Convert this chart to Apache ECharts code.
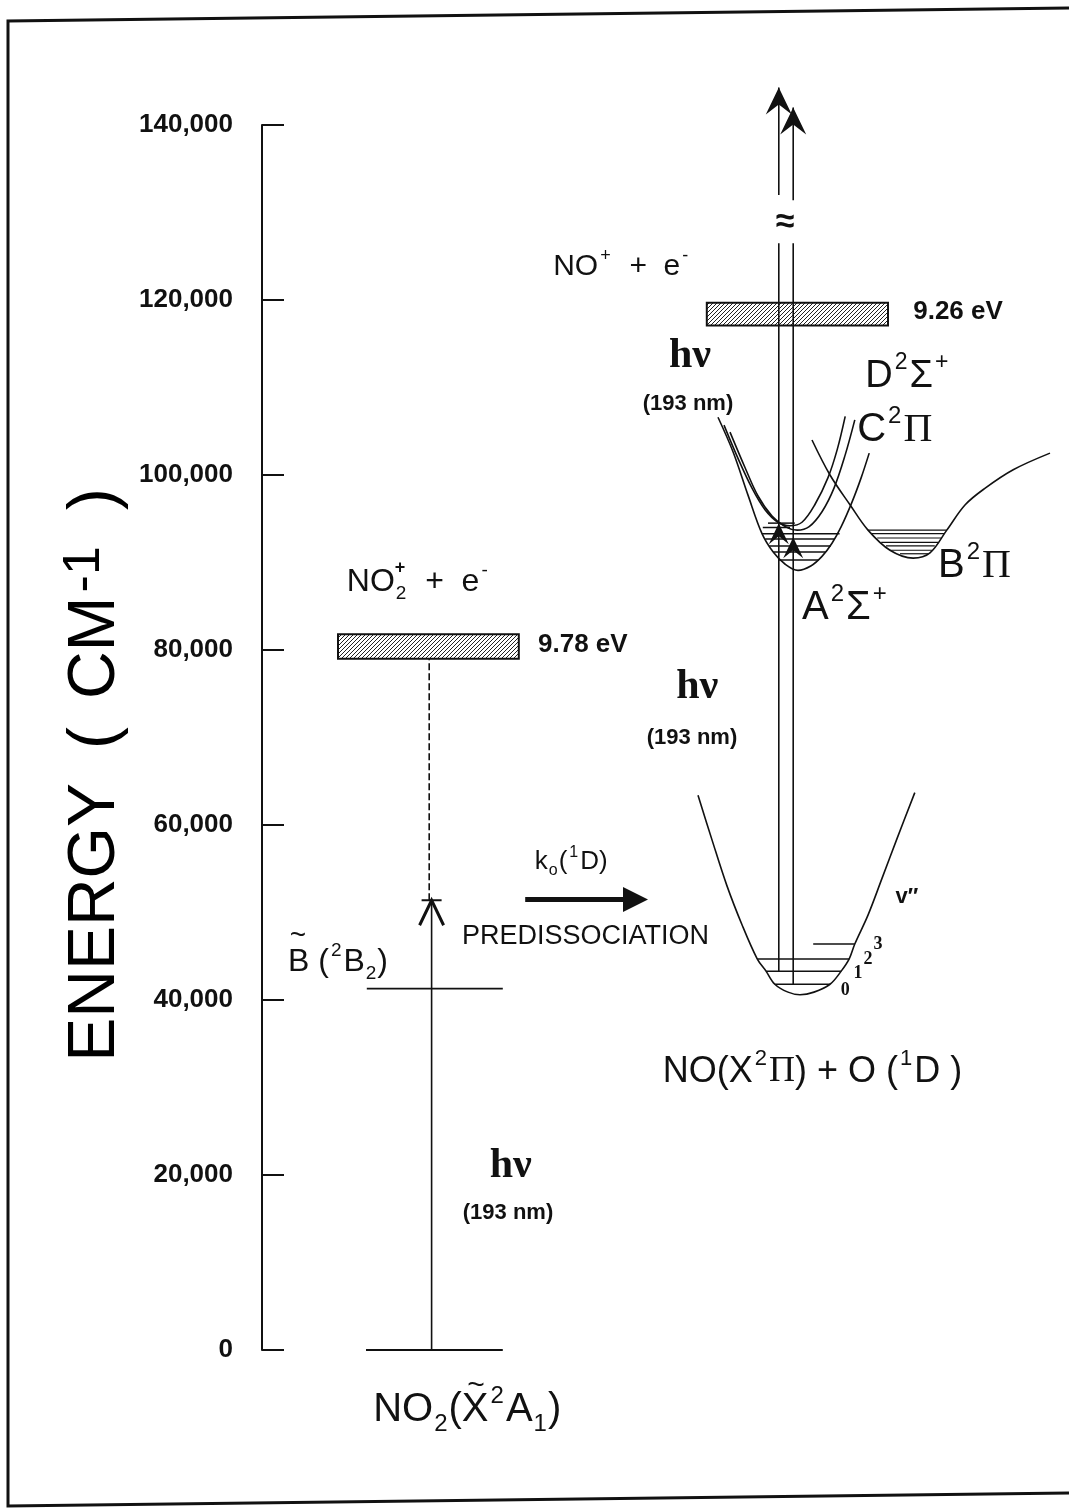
<!DOCTYPE html>
<html>
<head>
<meta charset="utf-8">
<script src="https://cdn.jsdelivr.net/npm/echarts@6/dist/echarts.min.js"></script>
<style>
  html, body { margin: 0; padding: 0; background: #fff; }
  #chart { width: 1069px; height: 1509px; }
</style>
</head>
<body>
<div id="chart"></div>
<script>
// Energy-level diagram for NO2 photolysis at 193 nm.
// Vertical scale: energy in cm^-1. Horizontal scale: schematic coordinate, arbitrary units 0-100.

const energyTicks = [0, 20000, 40000, 60000, 80000, 100000, 120000, 140000];

// ---- NO2 side ----
const no2GroundLevel = [[13.0, 30.1, 0]];          // [xStart, xEnd, energy]
const no2BLevel      = [[13.1, 30.1, 41300]];
const no2IonBand     = [[9.5, 32.1, 79000, 81800]]; // [xStart, xEnd, eLow, eHigh]

// ---- NO side ----
const noIonBand = [[55.6, 78.25, 117100, 119700]];

// NO X^2Pi potential curve [x, energy]
const xStateCurve = [
  [54.5, 63400], [56.25, 58300], [58.1, 53100], [60.0, 48600], [61.9, 44700],
  [63.0, 43300], [64.1, 41800], [65.75, 40900], [67.25, 40600], [69.0, 40900],
  [71.0, 41800], [72.4, 43300], [73.4, 44700], [74.1, 46400], [75.75, 49700],
  [77.5, 53900], [79.4, 58500], [81.6, 63700]
];
const xStateLevels = [[64.1, 71.0, 41800], [63.0, 72.4, 43300], [61.9, 73.4, 44700], [68.9, 74.1, 46400]];
const xLevelNumbers = ['0', '1', '2', '3'];

// NO A^2Sigma+ curve
const aStateCurve = [
  [57.0, 106600], [58.9, 102600], [60.75, 97700], [62.5, 93300], [63.9, 91200],
  [65.4, 89800], [67.0, 89100], [68.6, 89600], [70.0, 90700], [71.25, 92200],
  [72.4, 94100], [73.75, 96900], [74.9, 99700], [75.9, 102500]
];
const aStateLevels = [[62.5, 72.2, 93300], [62.9, 71.55, 92700], [63.4, 71.1, 91900], [63.9, 70.4, 91200], [64.6, 69.6, 90300]];

// NO D^2Sigma+ and C^2Pi curves
const dStateCurve = [
  [57.75, 105700], [59.5, 101900], [61.25, 98500], [62.9, 96000], [64.5, 94600],
  [66.0, 94200], [67.5, 94600], [69.1, 96600], [70.75, 99700], [71.9, 102900], [72.9, 106700]
];
const cStateCurve = [
  [58.5, 104900], [60.4, 100800], [62.0, 97600], [63.75, 95300], [65.4, 94100],
  [66.9, 93700], [68.4, 94100], [70.0, 95800], [71.5, 98500], [72.9, 102300], [74.1, 106300]
];
const cdLevels = [[63.25, 66.6, 94500], [62.6, 66.0, 94000]];

// NO B^2Pi curve
const bStateCurve = [
  [68.75, 104000], [71.0, 100000], [73.5, 96600], [75.75, 93700], [78.5, 91400],
  [81.4, 90500], [83.5, 91100], [85.6, 93700], [87.9, 96600], [90.4, 98500],
  [93.9, 100600], [98.5, 102500]
];
const bStateLevels = [
  [75.75, 85.6, 93700], [76.25, 85.25, 93300], [76.9, 84.9, 92800], [77.4, 84.5, 92300],
  [78.0, 84.1, 91900], [78.5, 83.75, 91400], [79.75, 83.25, 91000]
];

// Photon transitions [x, eFrom, eTo]
const photonLines = [
  [21.2, 0, 51400],
  [64.6, 43300, 126500], [64.6, 132000, 144300],
  [66.4, 41800, 126500], [66.4, 131400, 142000]
];
const dissociationLine = [[20.9, 51400, 79000]];
// Arrow tips [x, energy, kind]  kind 0: open head with cap, 1: large filled, 2: small filled
const arrowTips = [[21.2, 51400, 0], [64.6, 144300, 1], [66.4, 142000, 1], [64.6, 94500, 2], [66.4, 92900, 2]];
// Predissociation arrow [xStart, xEnd, energy]
const predissociationArrow = [[32.9, 48.25, 51500]];

const INK = '#111';
const SANS = '"Liberation Sans",Arial,sans-serif';
const SERIF = '"Liberation Serif","DejaVu Serif",serif';

function richSet(s, weight) {
  const sup = Math.round(s * 0.6);
  const w = weight || 'normal';
  return {
    t:   { fontFamily: SANS, fontSize: s, color: INK, fontWeight: w, lineHeight: Math.round(s * 1.3) },
    b:   { fontFamily: SANS, fontSize: s, color: INK, fontWeight: 'bold', lineHeight: Math.round(s * 1.3) },
    g:   { fontFamily: SERIF, fontSize: s, color: INK, fontWeight: w, lineHeight: Math.round(s * 1.3) },
    sup: { fontFamily: SANS, fontSize: sup, color: INK, fontWeight: w, verticalAlign: 'top', lineHeight: sup, padding: [0, 2, 0, 2] },
    sub: { fontFamily: SANS, fontSize: sup, color: INK, fontWeight: w, verticalAlign: 'bottom', lineHeight: sup, padding: [0, 1, 0, 1] }
  };
}

// Text annotations placed in data coordinates
const annotations = [
  { text: '{t|NO}{sub|2}{t|  +  e}{sup|-}', at: [10.6, 87700], align: 'left', size: 32 },
  { text: '{b|+}', at: [17.25, 89400], align: 'center', size: 18 },
  { text: '{t|9.78 eV}', at: [34.5, 80600], align: 'left', size: 26, weight: 'bold' },
  { text: '{t|B (}{sup|2}{t|B}{sub|2}{t|)}', at: [3.25, 44300], align: 'left', size: 32 },
  { text: '{t|~}', at: [4.5, 47300], align: 'center', size: 28 },
  { text: '{g|hν}', at: [31.1, 21000], align: 'center', size: 42, weight: 'bold' },
  { text: '{t|(193 nm)}', at: [30.75, 15700], align: 'center', size: 22, weight: 'bold' },
  { text: '{t|NO}{sub|2}{t|(X}{sup|2}{t|A}{sub|1}{t|)}', at: [13.9, -6900], align: 'left', size: 40 },
  { text: '{t|~}', at: [26.75, -4100], align: 'center', size: 30 },
  { text: '{t|k}{sub|o}{t|(}{sup|1}{t|D)}', at: [34.1, 55800], align: 'left', size: 26 },
  { text: '{t|PREDISSOCIATION}', at: [25.0, 47200], align: 'left', size: 27 },
  { text: '{t|NO}{sup|+}{t|  +  e}{sup|-}', at: [36.4, 123800], align: 'left', size: 30 },
  { text: '{t|9.26 eV}', at: [81.4, 118600], align: 'left', size: 26, weight: 'bold' },
  { text: '{g|hν}', at: [53.5, 113600], align: 'center', size: 42, weight: 'bold' },
  { text: '{t|(193 nm)}', at: [53.25, 108100], align: 'center', size: 22, weight: 'bold' },
  { text: '{t|D}{sup|2}{t|Σ}{sup|+}', at: [75.4, 111300], align: 'left', size: 38 },
  { text: '{t|C}{sup|2}{g|Π}', at: [74.4, 105100], align: 'left', size: 40 },
  { text: '{t|B}{sup|2}{g|Π}', at: [84.5, 89600], align: 'left', size: 40 },
  { text: '{t|A}{sup|2}{t|Σ}{sup|+}', at: [67.5, 84800], align: 'left', size: 40 },
  { text: '{g|hν}', at: [54.4, 75800], align: 'center', size: 42, weight: 'bold' },
  { text: '{t|(193 nm)}', at: [53.75, 69900], align: 'center', size: 22, weight: 'bold' },
  { text: '{t|NO(X}{sup|2}{g|Π}{t|) + O (}{sup|1}{t|D )}', at: [50.1, 31800], align: 'left', size: 36 },
  { text: '{b|≈}', at: [65.4, 128900], align: 'center', size: 34 },
  { text: '{t|v″}', at: [80.6, 51800], align: 'center', size: 22, weight: 'bold' }
];
// vibrational quantum numbers beside the X-state levels
const levelNumberAnchors = [[72.9, 41100], [74.5, 43100], [75.75, 44600], [77.0, 46400]];

function makeHatch() {
  const c = document.createElement('canvas');
  c.width = 4; c.height = 4;
  const g = c.getContext('2d');
  g.fillStyle = '#fff'; g.fillRect(0, 0, 4, 4);
  g.strokeStyle = '#222'; g.lineWidth = 1;
  g.beginPath();
  g.moveTo(0, 4); g.lineTo(4, 0);
  g.moveTo(-1, 1); g.lineTo(1, -1);
  g.moveTo(3, 5); g.lineTo(5, 3);
  g.stroke();
  return c;
}
const hatch = makeHatch();

function curveSeries(data) {
  return {
    type: 'line', data: data, smooth: 0.35, showSymbol: false, silent: true, clip: false,
    lineStyle: { color: INK, width: 1.6 }, z: 2
  };
}

function levelSeries(data, width) {
  return {
    type: 'custom', data: data, clip: false, silent: true, z: 3,
    encode: { x: [0, 1], y: 2 },
    renderItem: function (params, api) {
      const a = api.coord([api.value(0), api.value(2)]);
      const b = api.coord([api.value(1), api.value(2)]);
      return { type: 'line', shape: { x1: a[0], y1: a[1], x2: b[0], y2: b[1] },
               style: { stroke: INK, lineWidth: width || 1.5 } };
    }
  };
}

function verticalSeries(data, dashed) {
  return {
    type: 'custom', data: data, clip: false, silent: true, z: 5,
    encode: { x: 0, y: [1, 2] },
    renderItem: function (params, api) {
      const a = api.coord([api.value(0), api.value(1)]);
      const b = api.coord([api.value(0), api.value(2)]);
      return { type: 'line', shape: { x1: a[0], y1: a[1], x2: b[0], y2: b[1] },
               style: { stroke: INK, lineWidth: 1.6, lineDash: dashed ? [7, 3] : null } };
    }
  };
}

function bandSeries(data) {
  return {
    type: 'custom', data: data, clip: false, silent: true, z: 4,
    encode: { x: [0, 1], y: [2, 3] },
    renderItem: function (params, api) {
      const p0 = api.coord([api.value(0), api.value(3)]);
      const p1 = api.coord([api.value(1), api.value(2)]);
      return { type: 'rect', shape: { x: p0[0], y: p0[1], width: p1[0] - p0[0], height: p1[1] - p0[1] },
               style: { fill: { image: hatch, repeat: 'repeat' }, stroke: INK, lineWidth: 2 } };
    }
  };
}

const arrowTipSeries = {
  type: 'custom', data: arrowTips, clip: false, silent: true, z: 6,
  encode: { x: 0, y: 1 },
  renderItem: function (params, api) {
    const p = api.coord([api.value(0), api.value(1)]);
    const kind = api.value(2);
    const x = p[0], y = p[1];
    if (kind === 0) {
      return { type: 'group', children: [
        { type: 'polyline', shape: { points: [[x - 12, y + 25], [x, y], [x + 12, y + 25]] },
          style: { stroke: INK, lineWidth: 3, fill: null } },
        { type: 'line', shape: { x1: x - 10, y1: y, x2: x + 10, y2: y }, style: { stroke: INK, lineWidth: 2 } }
      ] };
    }
    const w = kind === 1 ? 13 : 10, h = kind === 1 ? 27 : 21, n = kind === 1 ? 17 : 13;
    return { type: 'polygon', shape: { points: [[x, y], [x + w, y + h], [x, y + n], [x - w, y + h]] },
             style: { fill: INK } };
  }
};

const predissociationSeries = {
  type: 'custom', data: predissociationArrow, clip: false, silent: true, z: 6,
  encode: { x: [0, 1], y: 2 },
  renderItem: function (params, api) {
    const a = api.coord([api.value(0), api.value(2)]);
    const b = api.coord([api.value(1), api.value(2)]);
    const head = 25, half = 12.5;
    return { type: 'group', children: [
      { type: 'line', shape: { x1: a[0], y1: a[1], x2: b[0] - head + 2, y2: b[1] }, style: { stroke: INK, lineWidth: 5 } },
      { type: 'polygon', shape: { points: [[b[0], b[1]], [b[0] - head, b[1] - half], [b[0] - head, b[1] + half]] }, style: { fill: INK } }
    ] };
  }
};

const annotationSeries = {
  type: 'scatter', symbolSize: 0, silent: true, clip: false, z: 10,
  itemStyle: { opacity: 1 },
  data: annotations.map(function (a) {
    return {
      value: a.at,
      label: { show: true, position: [0, 0], align: a.align, verticalAlign: 'middle',
               formatter: a.text, rich: richSet(a.size, a.weight) }
    };
  }).concat(levelNumberAnchors.map(function (p, i) {
    return {
      value: p,
      label: { show: true, position: [0, 0], align: 'center', verticalAlign: 'middle',
               formatter: xLevelNumbers[i], fontFamily: SERIF, fontWeight: 'bold', fontSize: 18, color: INK }
    };
  }))
};

const chart = echarts.init(document.getElementById('chart'), null, { renderer: 'canvas' });
chart.setOption({
  animation: false,
  backgroundColor: '#fff',
  grid: { left: 262, top: 125, width: 800, height: 1225, containLabel: false },
  xAxis: { type: 'value', min: 0, max: 100, show: false },
  yAxis: {
    type: 'value', min: energyTicks[0], max: energyTicks[energyTicks.length - 1], interval: 20000,
    axisLine: { show: true, lineStyle: { color: INK, width: 2 } },
    axisTick: { show: true, inside: true, length: 22, lineStyle: { color: INK, width: 2 } },
    splitLine: { show: false },
    axisLabel: {
      margin: 29, color: INK, fontFamily: SANS, fontWeight: 'bold', fontSize: 26,
      formatter: function (v) { return v.toLocaleString('en-US'); }
    }
  },
  graphic: [
    { type: 'polyline', silent: true,
      shape: { points: [[1069, 8], [8, 21], [8, 1506], [1069, 1493]] },
      style: { stroke: INK, lineWidth: 3, fill: null } },
    { type: 'text', x: 96, y: 775, rotation: Math.PI / 2, silent: true,
      style: {
        text: '{a|ENERGY}{p|(}{a|CM}{s|-1}{q|)}', align: 'center', verticalAlign: 'middle',
        rich: {
          a: { fontFamily: SANS, fontSize: 66, color: INK, lineHeight: 74 },
          p: { fontFamily: SANS, fontSize: 66, color: INK, lineHeight: 74, padding: [0, 28, 0, 34] },
          q: { fontFamily: SANS, fontSize: 66, color: INK, lineHeight: 74, padding: [0, 0, 0, 34] },
          s: { fontFamily: SANS, fontSize: 52, color: INK, verticalAlign: 'top', lineHeight: 56, padding: [0, 2, 0, 4] }
        }
      } }
  ],
  series: [
    curveSeries(xStateCurve),
    curveSeries(aStateCurve),
    curveSeries(dStateCurve),
    curveSeries(cStateCurve),
    curveSeries(bStateCurve),
    levelSeries(no2GroundLevel, 1.8),
    levelSeries(no2BLevel, 1.8),
    levelSeries(xStateLevels),
    levelSeries(aStateLevels),
    levelSeries(cdLevels),
    levelSeries(bStateLevels, 1.2),
    bandSeries(no2IonBand),
    bandSeries(noIonBand),
    verticalSeries(photonLines, false),
    verticalSeries(dissociationLine, true),
    arrowTipSeries,
    predissociationSeries,
    annotationSeries
  ]
});
</script>
</body>
</html>
